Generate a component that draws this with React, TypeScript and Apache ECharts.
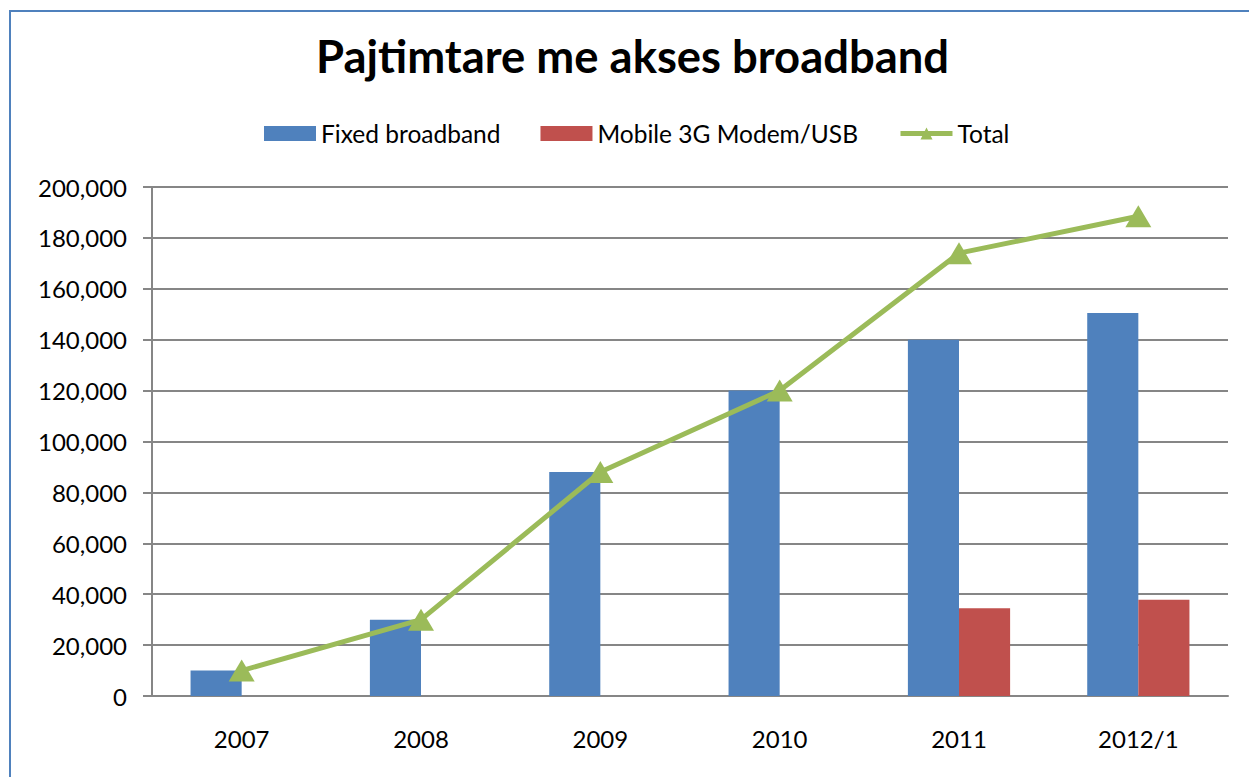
import React, { useEffect, useRef } from "react";
import * as echarts from "echarts";

const categories = ["2007", "2008", "2009", "2010", "2011", "2012/1"];
const fixedBroadband = [10000, 30000, 88000, 120000, 140000, 150500];
const mobile3G = [null, null, null, null, 34500, 37800];
const total = [10000, 30000, 88000, 120000, 174000, 188500];
const yTicks = { min: 0, max: 200000, interval: 20000 };

const FONT = "Lato";

export default function App() {
  const ref = useRef<HTMLDivElement>(null);
  useEffect(() => {
    if (!ref.current) return;
    const chart = echarts.init(ref.current, null, { renderer: "svg" });
    chart.setOption({
      animation: false,
      backgroundColor: "#ffffff",
      textStyle: { fontFamily: FONT },
      title: {
        text: "Pajtimtare me akses broadband",
        left: 316,
        top: 33,
        padding: 0,
        textStyle: { fontFamily: FONT, fontSize: 45.4, fontWeight: "bold", color: "#000" },
      },
      legend: {
        top: 121,
        left: 264,
        padding: 0,
        itemWidth: 52,
        itemHeight: 15,
        itemGap: 40,
        textStyle: { fontFamily: FONT, fontSize: 24.5, color: "#000" },
        data: [
          { name: "Fixed broadband", icon: "rect" },
          { name: "Mobile 3G Modem/USB", icon: "rect" },
          { name: "Total", lineStyle: { width: 5, color: "#9BBB59" } },
        ],
      },
      grid: { left: 152, right: 21, top: 187, bottom: 81, containLabel: false },
      xAxis: {
        type: "category",
        data: categories,
        axisLine: { lineStyle: { color: "#868686", width: 2 } },
        axisTick: { length: 8, lineStyle: { color: "#868686", width: 2 } },
        axisLabel: { fontFamily: FONT, fontSize: 24, color: "#000", margin: 30 },
        splitLine: { show: false },
      },
      yAxis: {
        type: "value",
        min: yTicks.min,
        max: yTicks.max,
        interval: yTicks.interval,
        axisLine: { show: true, lineStyle: { color: "#868686", width: 2 } },
        axisTick: { show: true, length: 9, lineStyle: { color: "#868686", width: 2 } },
        axisLabel: {
          fontFamily: FONT,
          fontSize: 24,
          color: "#000",
          margin: 25,
          formatter: (v: number) => v.toLocaleString("en-US"),
        },
        splitLine: { lineStyle: { color: "#868686", width: 2 } },
      },
      graphic: [
        {
          type: "rect",
          shape: { x: 10, y: 11, width: 1400, height: 1000 },
          style: { fill: "none", stroke: "#4F81BD", lineWidth: 2 },
          silent: true,
        },
      ],
      series: [
        {
          name: "Fixed broadband",
          type: "bar",
          data: fixedBroadband,
          barGap: "0%",
          barCategoryGap: "43%",
          itemStyle: { color: "#4F81BD" },
        },
        {
          name: "Mobile 3G Modem/USB",
          type: "bar",
          data: mobile3G,
          itemStyle: { color: "#C0504D" },
        },
        {
          name: "Total",
          type: "line",
          data: total,
          symbol: "triangle",
          symbolSize: [26, 22],
          lineStyle: { color: "#9BBB59", width: 5 },
          itemStyle: { color: "#9BBB59" },
          z: 5,
        },
      ],
    });
    return () => chart.dispose();
  }, []);
  return (
    <div
      ref={ref}
      style={{ position: "absolute", left: 0, top: 0, width: 1249, height: 777 }}
    />
  );
}
